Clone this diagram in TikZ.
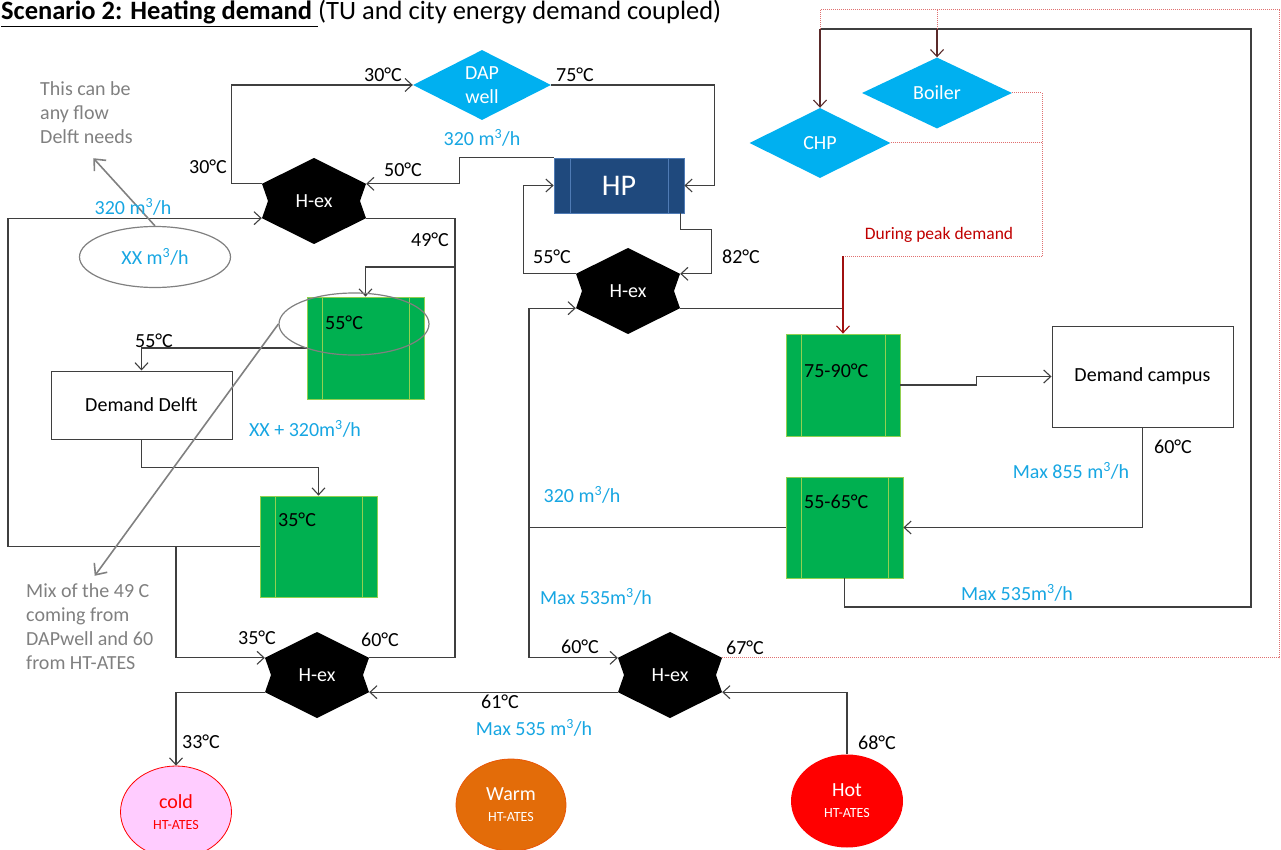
\documentclass[tikz,border=0pt]{standalone}
\usepackage{fontspec}
\setmainfont{Carlito}
\usepackage{tikz}
\usetikzlibrary{arrows.meta,positioning,shapes.geometric,calc}
\definecolor{pipegray}{HTML}{3F3F3F}
\definecolor{wellblue}{HTML}{00B0F0}
\definecolor{rateblue}{HTML}{17A6E2}
\definecolor{hpblue}{HTML}{1F497D}
\definecolor{hpedge}{HTML}{4F7BB5}
\definecolor{tankgreen}{HTML}{00B050}
\definecolor{tankedge}{HTML}{92D050}
\definecolor{peakred}{HTML}{C00000}
\definecolor{peakdot}{HTML}{E07070}
\definecolor{feedbrown}{HTML}{5A2A2A}
\definecolor{notegray}{HTML}{808080}
\definecolor{coldpink}{HTML}{FFCCFF}
\definecolor{warmorange}{HTML}{E36C09}
\definecolor{hotred}{HTML}{FF0000}
\tikzset{
  pipeline/.style ={draw=pipegray,line width=1.1pt},
  flowline/.style ={pipeline,-{Straight Barb[length=7pt,width=13pt]}},
  feedline/.style ={draw=feedbrown,line width=1.1pt,-{Straight Barb[length=7pt,width=13pt]}},
  peakline/.style ={draw=peakdot,line width=1pt,densely dotted},
  peakarrow/.style={draw=peakred!75!pipegray,line width=1.1pt,-{Straight Barb[length=7pt,width=13pt]}},
  noteline/.style ={draw=notegray,line width=1.6pt,-{Straight Barb[length=9pt,width=16pt]}},
  srcdia/.style   ={diamond,shape aspect=2,fill=wellblue,inner sep=0pt,text=white,align=center},
  hexbox/.style   ={minimum width=104pt,minimum height=86pt,inner sep=0pt,text=white,
                    path picture={\fill[black]
                      (path picture bounding box.north)
                      -- ($(path picture bounding box.north east)!0.3!(path picture bounding box.south east)$)
                      -- ($(path picture bounding box.east)+(-6pt,0pt)$)
                      -- ($(path picture bounding box.north east)!0.7!(path picture bounding box.south east)$)
                      -- (path picture bounding box.south)
                      -- ($(path picture bounding box.north west)!0.7!(path picture bounding box.south west)$)
                      -- ($(path picture bounding box.west)+(6pt,0pt)$)
                      -- ($(path picture bounding box.north west)!0.3!(path picture bounding box.south west)$)
                      -- cycle;}},
  tankbox/.style  ={draw=tankedge,line width=0.8pt,fill=tankgreen,minimum width=117pt,minimum height=102pt,
                    path picture={\draw[tankedge,line width=0.8pt]
                      ([xshift=15pt]path picture bounding box.north west) -- ([xshift=15pt]path picture bounding box.south west)
                      ([xshift=-15pt]path picture bounding box.north east) -- ([xshift=-15pt]path picture bounding box.south east);}},
  hpbox/.style    ={draw=hpedge,line width=0.8pt,fill=hpblue,text=white,minimum width=130pt,minimum height=55pt,
                    font=\fontsize{30}{34}\selectfont,
                    path picture={\draw[hpedge,line width=0.8pt]
                      ([xshift=16pt]path picture bounding box.north west) -- ([xshift=16pt]path picture bounding box.south west)
                      ([xshift=-16pt]path picture bounding box.north east) -- ([xshift=-16pt]path picture bounding box.south east);}},
  demandbox/.style={draw=pipegray,line width=1pt,fill=white,minimum width=181pt},
  ates/.style     ={ellipse,minimum width=111pt,minimum height=92pt,inner sep=0pt,align=center,line width=0.8pt},
  flowring/.style ={ellipse,draw=notegray,line width=1.2pt,minimum width=151pt,minimum height=61pt,inner sep=0pt},
  templbl/.style  ={inner sep=0pt},
  ratelbl/.style  ={inner sep=0pt,text=rateblue},
  notelbl/.style  ={inner sep=0pt,text=notegray,align=left}
}
\newcommand{\sub}[1]{{\fontsize{14}{16}\selectfont #1}}
\begin{document}
\begin{tikzpicture}[x=1pt,y=-1pt,font=\fontsize{20}{24}\selectfont]
  \useasboundingbox (0,0) rectangle (1281,850);
  \node[anchor=base west,inner sep=0pt,font=\fontsize{26.5}{30}\selectfont] (title) at (1,20)
    {\underline{\textbf{Scenario 2: Heating demand }}(TU and city energy demand coupled)};

  % sources and storage
  \node[srcdia,minimum width=138pt,minimum height=70pt] (dap) at (482,85) {DAP\\well};
  \node[srcdia,minimum width=150pt,minimum height=71pt] (boiler) at (937,93) {Boiler};
  \node[srcdia,minimum width=141pt,minimum height=70pt] (chp) at (820,143) {CHP};
  \node[hpbox] (hp) at (619,185.5) {HP};
  \node[hexbox] (hx1) at (314,201) {H-ex};
  \node[hexbox] (hx2) at (628,291) {H-ex};
  \node[hexbox] (hx3) at (670,675) {H-ex};
  \node[hexbox] (hx4) at (317,675) {H-ex};
  \node[tankbox] (t55) at (365.5,348) {};
  \node[tankbox,minimum height=101pt] (t35) at (318.5,546.5) {};
  \node[tankbox,minimum width=114pt] (t7590) at (843,385) {};
  \node[tankbox,minimum height=101pt] (t5565) at (844.5,527.5) {};
  \node[demandbox,minimum height=68pt] (delft) at (141.5,405) {Demand Delft};
  \node[demandbox,minimum height=101pt] (campus) at (1142.5,376.5) {Demand campus};
  \node[ates,fill=coldpink,draw=hotred,text=hotred] (cold) at (176,812) {cold\\[-3pt]\sub{HT-ATES}};
  \node[ates,fill=warmorange,draw=warmorange!80!red,text=white,minimum width=110pt] (warm) at (511,805) {Warm\\[-3pt]\sub{HT-ATES}};
  \node[ates,fill=hotred,text=white,minimum width=112pt,minimum height=93pt] (hot) at (847,801) {Hot\\[-3pt]\sub{HT-ATES}};
  \node[templbl,anchor=west] at (325,323) {55°C};
  \node[templbl,anchor=west] at (278,520) {35°C};
  \node[templbl,anchor=west] at (804,371) {75-90°C};
  \node[templbl,anchor=west] at (804,502) {55-65°C};

  % junctions
  \coordinate (tee1) at (529,527.5);
  \coordinate (tee2) at (176,546.5);
  \coordinate (tee3) at (455,267);
  \coordinate (loopsw) at (8,546.5);
  \coordinate (ringse) at (1251,607);
  \coordinate (ringne) at (1251,29);
  \coordinate (peakne) at (1279,10);
  \coordinate (peakbus) at (1042,256);

  % DAP well and heat pump
  \draw[flowline] ([yshift=17.2pt]hx1.west) -- ++(-30pt,0pt) |- (dap.west);
  \draw[flowline] (dap.east) -| ([xshift=30pt]hp.east) -- (hp.east);
  \draw[flowline] (hp.north west) -- ++(-94pt,0pt) |- ([yshift=17.2pt]hx1.east);
  \draw[flowline] ([xshift=-4pt]hp.south east) -- ++(0pt,-16pt) -| ([xshift=31pt,yshift=17.2pt]hx2.east) -- ([yshift=17.2pt]hx2.east);
  \draw[flowline] ([yshift=17.2pt]hx2.west) -- ++(-52pt,0pt) |- (hp.west);

  % campus side
  \draw[flowline] (t5565.west) -- (tee1) |- ([yshift=-17.2pt]hx2.west);
  \draw[flowline] (tee1) |- ([yshift=17.2pt]hx3.west);
  \draw[pipeline] ([yshift=-17.2pt]hx2.east) -- ([yshift=-17.2pt]hx2.east -| t7590.north);
  \draw[flowline] (t7590.east) -- ++(76pt,0pt) |- (campus.west);
  \draw[flowline] (campus.south) |- (t5565.east);
  \draw[pipeline] (t5565.south) |- (ringse) -- (ringne) -- (chp.north |- ringne);
  \draw[feedline] (chp.north |- ringne) -- (chp.north);
  \draw[feedline] (boiler.north |- ringne) -- (boiler.north);

  % peak supply
  \draw[peakline] ([yshift=17.2pt]hx3.east) -| (peakne) -| (chp.north |- ringne);
  \draw[peakline] (boiler.north |- peakne) -- (boiler.north |- ringne);
  \draw[peakline] (boiler.east) -| (peakbus);
  \draw[peakline] (chp.east) -- (chp.east -| peakbus);
  \draw[peakline] (peakbus) -- (peakbus -| t7590.north);
  \draw[peakarrow] (peakbus -| t7590.north) -- (t7590.north);
  \node[templbl,text=peakred,font=\fontsize{17.5}{21}\selectfont] at (939,235) {During peak demand};

  % Delft side
  \draw[flowline] (t55.west) -| (delft.north);
  \draw[flowline] (delft.south) -- ++(0pt,-28pt) -| (t35.north);
  \draw[flowline] (t35.west) -- (loopsw) |- ([yshift=-17.2pt]hx1.west);
  \draw[flowline] (tee2) |- ([yshift=17.2pt]hx4.west);
  \draw[pipeline] ([yshift=-17.2pt]hx1.east) -| (tee3) |- ([yshift=17.2pt]hx4.east);
  \draw[flowline] (tee3) -| (t55.north);

  % HT-ATES
  \draw[flowline] ([yshift=-17.2pt]hx4.west) -| (cold.north);
  \draw[flowline] ([yshift=-17.2pt]hx3.west) -- ([yshift=-17.2pt]hx4.east);
  \draw[flowline] (hot.north) |- ([yshift=-17.2pt]hx3.east);

  % notes
  \node[flowring] (e1) at (155,257) {\textcolor{rateblue}{XX m\textsuperscript{3}/h}};
  \node[flowring,minimum width=150pt,minimum height=62pt] (e2) at (354,324) {};
  \node[notelbl,anchor=west] (note1) at (40,113) {This can be\\any flow\\Delft needs};
  \node[notelbl,anchor=west] (note2) at (26,627) {Mix of the 49 C\\coming from\\DAPwell and 60\\from HT-ATES};
  \draw[noteline] (e1.north) -- ([xshift=7pt,yshift=-14pt]note1.south);
  \draw[noteline] (e2.west) -- ([xshift=5pt,yshift=8pt]note2.north);

  % temperatures
  \node[templbl] at (383,75) {30°C};
  \node[templbl] at (575,75) {75°C};
  \node[templbl] at (208,167) {30°C};
  \node[templbl] at (403,170) {50°C};
  \node[templbl] at (430,240) {49°C};
  \node[templbl] at (552,257) {55°C};
  \node[templbl] at (741,257) {82°C};
  \node[templbl] at (154,341) {55°C};
  \node[templbl] at (1173,447) {60°C};
  \node[templbl] at (257,638) {35°C};
  \node[templbl] at (380,640) {60°C};
  \node[templbl] at (580,647) {60°C};
  \node[templbl] at (745,648) {67°C};
  \node[templbl] at (500,702) {61°C};
  \node[templbl] at (201,742) {33°C};
  \node[templbl] at (877,743) {68°C};

  % flow rates
  \node[ratelbl] at (482,138) {320 m\textsuperscript{3}/h};
  \node[ratelbl] at (133,207) {320 m\textsuperscript{3}/h};
  \node[ratelbl] at (305,429) {XX + 320m\textsuperscript{3}/h};
  \node[ratelbl] at (582,495) {320 m\textsuperscript{3}/h};
  \node[ratelbl] at (1071,471) {Max 855 m\textsuperscript{3}/h};
  \node[ratelbl] at (596,597) {Max 535m\textsuperscript{3}/h};
  \node[ratelbl] at (1017,593) {Max 535m\textsuperscript{3}/h};
  \node[ratelbl] at (534,728) {Max 535 m\textsuperscript{3}/h};
\end{tikzpicture}
\end{document}
